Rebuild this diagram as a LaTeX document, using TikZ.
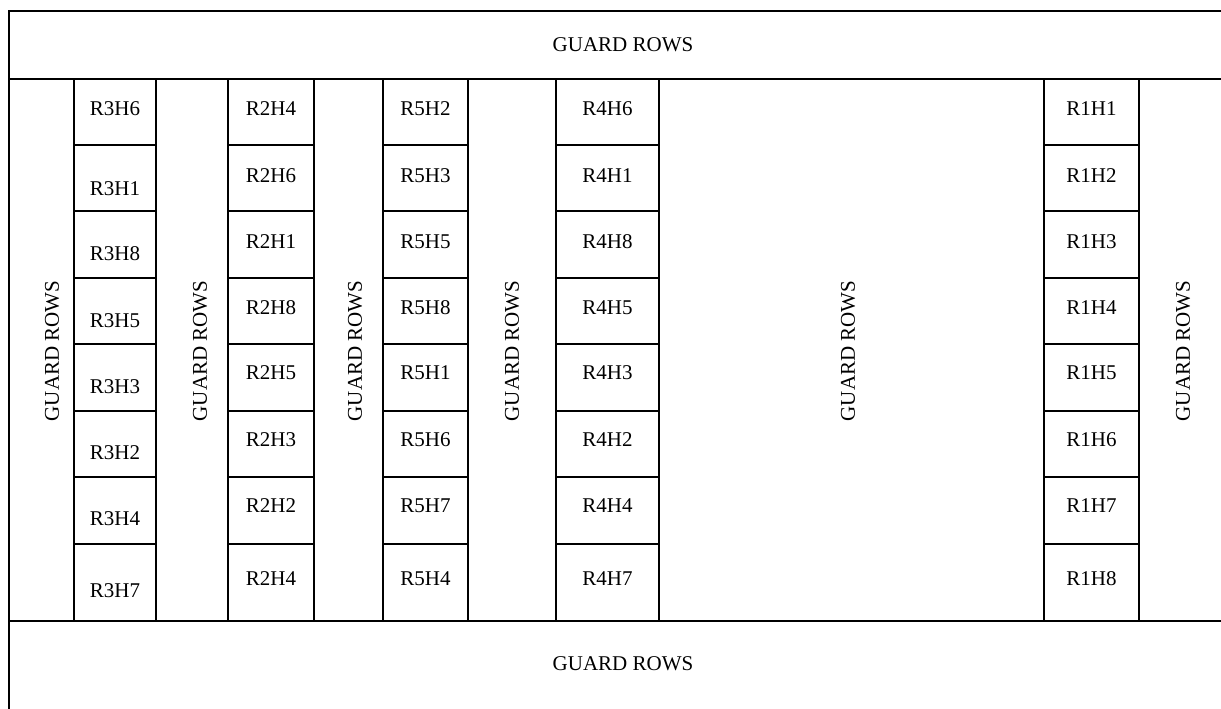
\documentclass[tikz,border=0pt]{standalone}
\usepackage{fontspec}
\setmainfont{Liberation Serif}
\tikzset{
  grid/.style={line width=1.9pt, line cap=rect},
  lbl/.style={font=\fontsize{21}{25}\selectfont, inner sep=0pt, anchor=base},
  vlbl/.style={font=\fontsize{21}{25}\selectfont, inner sep=0pt, rotate=90},
  hlbl/.style={font=\fontsize{21}{25}\selectfont, inner sep=0pt},
}
\begin{document}
\begin{tikzpicture}[x=1pt,y=-1pt]
\useasboundingbox (0,0) rectangle (1221,709);
% outer frame
\draw[grid] (1221,11) -- (9,11) -- (9,709);
\draw[grid] (9,79) -- (1221,79);
\draw[grid] (9,621) -- (1221,621);
% column lines
\foreach \x in {74,156,228,314,383,468,556,659,1044,1139}
  \draw[grid] (\x,79) -- (\x,621);
% row lines in cell columns
\foreach \a/\b in {74/156,228/314,383/468,556/659,1044/1139}
  \foreach \y in {145,211,278,344,411,477,544}
    \draw[grid] (\a,\y) -- (\b,\y);
% guard rows labels
\node[hlbl] (gtop) at (623,45) {GUARD ROWS};
\node[hlbl] (gbot) at (623,664) {GUARD ROWS};
\node[vlbl] (g1) at (52,351) {GUARD ROWS};
\node[vlbl] (g2) at (200,351) {GUARD ROWS};
\node[vlbl] (g3) at (355,351) {GUARD ROWS};
\node[vlbl] (g4) at (512,351) {GUARD ROWS};
\node[vlbl] (g5) at (848,351) {GUARD ROWS};
\node[vlbl] (g6) at (1183,351) {GUARD ROWS};
% R3 column
\foreach \t/\y [count=\i] in {R3H6/108,R3H1/188,R3H8/253,R3H5/320,R3H3/386,R3H2/452,R3H4/518,R3H7/590}
  \node[lbl] (c3-\i) at (115,\y+7) {\t};
% R2 column
\foreach \t/\y [count=\i] in {R2H4/108,R2H6/175,R2H1/241,R2H8/307,R2H5/372,R2H3/439,R2H2/505,R2H4/578}
  \node[lbl] (c2-\i) at (271,\y+7) {\t};
% R5 column
\foreach \t/\y [count=\i] in {R5H2/108,R5H3/175,R5H5/241,R5H8/307,R5H1/372,R5H6/439,R5H7/505,R5H4/578}
  \node[lbl] (c5-\i) at (425.5,\y+7) {\t};
% R4 column
\foreach \t/\y [count=\i] in {R4H6/108,R4H1/175,R4H8/241,R4H5/307,R4H3/372,R4H2/439,R4H4/505,R4H7/578}
  \node[lbl] (c4-\i) at (607.5,\y+7) {\t};
% R1 column
\foreach \t/\y [count=\i] in {R1H1/108,R1H2/175,R1H3/241,R1H4/307,R1H5/372,R1H6/439,R1H7/505,R1H8/578}
  \node[lbl] (c1-\i) at (1091.5,\y+7) {\t};
\end{tikzpicture}
\end{document}
